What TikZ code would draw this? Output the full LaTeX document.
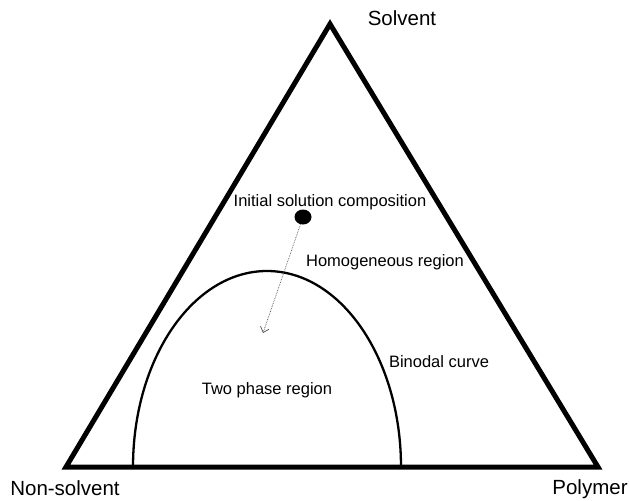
\documentclass[tikz,border=0pt]{standalone}
\usepackage{fontspec}
\setmainfont{Liberation Sans}
\usetikzlibrary{arrows.meta,shapes.geometric}

\begin{document}
\begin{tikzpicture}[x=1pt, y=-1pt,
  lbl/.style={font=\fontsize{16.5}{19}\selectfont, inner sep=0pt},
  corner/.style={font=\fontsize{20.5}{24}\selectfont, inner sep=0pt}]
  \useasboundingbox (0,0) rectangle (630,501);
  \coordinate (apex) at (330,24);
  \coordinate (nsv) at (66,467);
  \coordinate (pol) at (598,467);
  \draw[line width=5pt] (apex) -- (nsv) -- (pol) -- cycle;
  % binodal curve
  \draw[line width=2.3pt] (133,467) arc[start angle=180, end angle=360, x radius=134, y radius=196];
  % initial composition and its path
  \node[ellipse, fill, minimum width=17pt, minimum height=15pt, inner sep=0pt] (init) at (303,217) {};
  \coordinate (target) at (263,333);
  \draw[-{Straight Barb[length=5pt,width=9pt]}, densely dotted, gray!60!black, line width=0.7pt] (init) -- (target);
  \node[corner] (solvent) at (402,18) {Solvent};
  \node[corner] (nonsolvent) at (65,488) {Non-solvent};
  \node[corner] (polymer) at (590,489) {Polymer};
  \node[lbl] (initlbl) at (330,202) {Initial solution composition};
  \node[lbl] (homo) at (385,262) {Homogeneous region};
  \node[lbl] (binodal) at (439,362) {Binodal curve};
  \node[lbl] (twophase) at (267,390) {Two phase region};
\end{tikzpicture}
\end{document}
